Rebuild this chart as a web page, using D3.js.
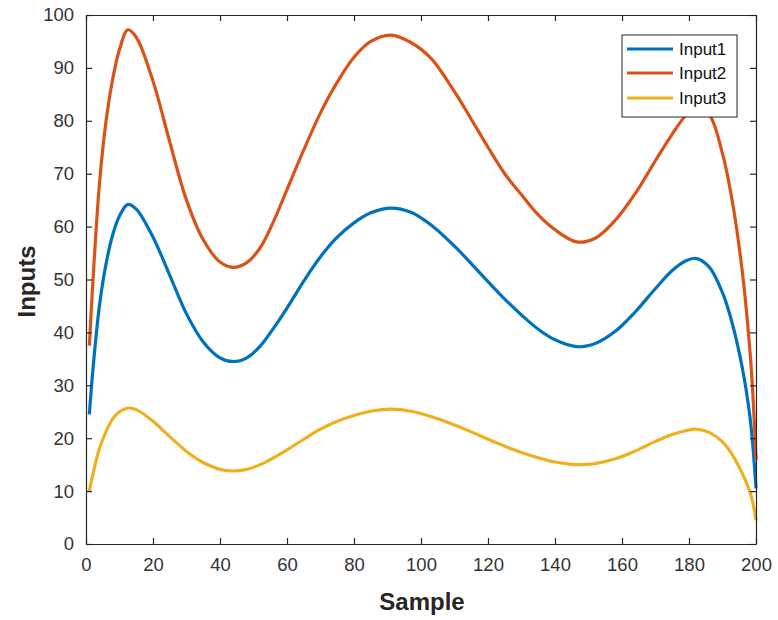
<!DOCTYPE html>
<html>
<head>
<meta charset="utf-8">
<script src="https://cdn.jsdelivr.net/npm/d3@7"></script>
<style>
  html, body { margin: 0; padding: 0; background: #fff; }
  svg { display: block; font-family: "Liberation Sans", Arial, sans-serif; }
</style>
</head>
<body>
<svg id="chart" width="778" height="620"></svg>
<script>
// ---- Data ----
const samples = [1, 2, 4, 6, 8, 10, 12.5, 15, 20, 25, 30, 35, 40, 44, 48, 52, 56, 60, 65, 70, 75, 80, 85, 91, 97, 103, 110, 115, 120, 125, 130, 135, 140, 146.5, 152, 158, 164, 170, 175, 179, 182, 186, 190, 193, 196, 198, 199, 200];
const input1 = [24.5, 32.5, 45, 53, 58.5, 62, 64.2, 63.3, 58, 50.8, 43.5, 38.2, 35.2, 34.5, 35.2, 37.4, 40.8, 44.6, 49.7, 54.3, 58, 60.7, 62.6, 63.5, 62.7, 60.3, 56.3, 53, 49.6, 46.3, 43.3, 40.6, 38.6, 37.3, 37.9, 40.2, 43.9, 48.3, 51.7, 53.5, 54, 52.4, 47.5, 41.5, 33, 25, 19, 10.5];
const input2 = [37.5, 49, 68, 80, 88, 93.5, 97.2, 95.8, 87.5, 76, 65, 57.5, 53.3, 52.3, 53.2, 56, 61, 67, 74.5, 81.5, 87.3, 92, 95, 96.2, 94.8, 91.8, 85.5, 80.3, 75, 70, 66, 62.2, 59.4, 57.1, 57.8, 61.2, 66.3, 72.5, 77.5, 81, 82.6, 81.2, 73.8, 64.5, 51, 38, 29, 16];
const input3 = [10, 13, 18, 21.3, 23.7, 25, 25.7, 25.4, 23.2, 20.3, 17.5, 15.4, 14.1, 13.8, 14.1, 15, 16.3, 17.8, 19.8, 21.7, 23.2, 24.3, 25.1, 25.5, 25.1, 24.1, 22.5, 21.2, 19.8, 18.5, 17.3, 16.3, 15.5, 15, 15.2, 16.1, 17.6, 19.4, 20.7, 21.4, 21.7, 21.1, 19.3, 16.8, 13.2, 10.2, 8, 4.5];
const seriesNames = ["Input1", "Input2", "Input3"];
const seriesColors = ["#0072BD", "#D95319", "#EDB120"];
const xTicks = [0, 20, 40, 60, 80, 100, 120, 140, 160, 180, 200];
const yTicks = [0, 10, 20, 30, 40, 50, 60, 70, 80, 90, 100];

// ---- Layout ----
const svg = d3.select("#chart");
const L = 86, R = 756, T = 15, B = 544;
const x = d3.scaleLinear().domain([0, 200]).range([L, R]);
const y = d3.scaleLinear().domain([0, 100]).range([B, T]);
const axisColor = "#262626";
const tickLen = 6;

// Lines
const allSeries = [input1, input2, input3];
const line = d3.line()
  .x((d, i) => x(samples[i]))
  .y(d => y(d))
  .curve(d3.curveCatmullRom.alpha(0.5));

const plot = svg.append("g");
allSeries.forEach((s, k) => {
  plot.append("path")
    .attr("d", line(s))
    .attr("fill", "none")
    .attr("stroke", seriesColors[k])
    .attr("stroke-width", 3.2)
    .attr("stroke-linejoin", "round");
});

// Axes (ticks inward, box on all sides)
function styleAxis(g) {
  g.selectAll("path.domain").attr("stroke", axisColor).attr("stroke-width", 1.2);
  g.selectAll(".tick line").attr("stroke", axisColor).attr("stroke-width", 1.2);
  g.selectAll(".tick text").attr("fill", "#333").style("font-size", "18.5px")
    .style("font-family", "'Liberation Sans', Arial, sans-serif");
}

const xBottom = svg.append("g").attr("transform", `translate(0,${B})`)
  .call(d3.axisBottom(x).tickValues(xTicks).tickSizeInner(-tickLen).tickSizeOuter(0).tickPadding(14).tickFormat(d3.format("d")));
styleAxis(xBottom);

const xTop = svg.append("g").attr("transform", `translate(0,${T})`)
  .call(d3.axisTop(x).tickValues(xTicks).tickSizeInner(-tickLen).tickSizeOuter(0).tickFormat(""));
styleAxis(xTop);

const yLeft = svg.append("g").attr("transform", `translate(${L},0)`)
  .call(d3.axisLeft(y).tickValues(yTicks).tickSizeInner(-tickLen).tickSizeOuter(0).tickPadding(12).tickFormat(d3.format("d")));
styleAxis(yLeft);

const yRight = svg.append("g").attr("transform", `translate(${R},0)`)
  .call(d3.axisRight(y).tickValues(yTicks).tickSizeInner(-tickLen).tickSizeOuter(0).tickFormat(""));
styleAxis(yRight);

// Axis titles
svg.append("text")
  .attr("x", (L + R) / 2 + 1).attr("y", 610)
  .attr("text-anchor", "middle")
  .attr("fill", "#262626")
  .style("font-size", "24px").style("font-weight", "bold")
  .text("Sample");

svg.append("text")
  .attr("transform", `translate(35,${(T + B) / 2 + 2}) rotate(-90)`)
  .attr("text-anchor", "middle")
  .attr("fill", "#262626")
  .style("font-size", "24px").style("font-weight", "bold")
  .text("Inputs");

// Legend
const lg = svg.append("g");
lg.append("rect")
  .attr("x", 622).attr("y", 35).attr("width", 115).attr("height", 82)
  .attr("fill", "#fff").attr("stroke", axisColor).attr("stroke-width", 1);
const legendRows = [49, 73, 98];
seriesNames.forEach((n, k) => {
  lg.append("line")
    .attr("x1", 627).attr("x2", 673)
    .attr("y1", legendRows[k]).attr("y2", legendRows[k])
    .attr("stroke", seriesColors[k]).attr("stroke-width", 3.2);
  lg.append("text")
    .attr("x", 679).attr("y", legendRows[k] + 6)
    .attr("fill", "#111")
    .style("font-size", "17px")
    .text(n);
});
</script>
</body>
</html>
